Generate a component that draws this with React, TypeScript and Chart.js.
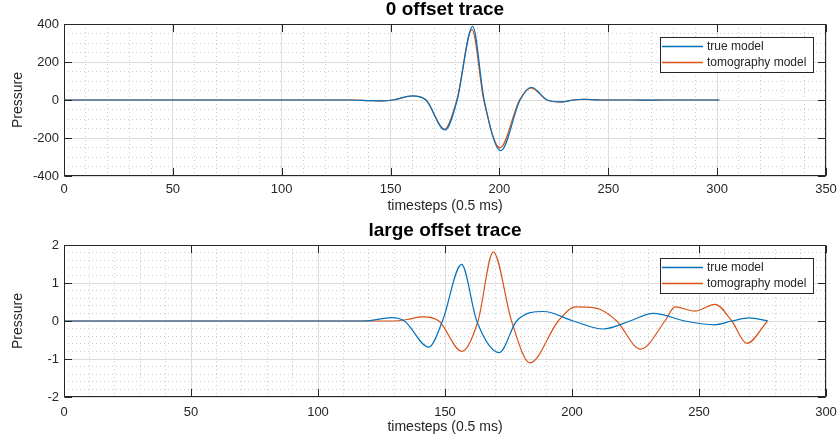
import React, { useEffect, useRef } from 'react';
import { Chart, registerables } from 'chart.js';

Chart.register(...registerables);

const FONT = "'Liberation Sans', Arial, Helvetica, sans-serif";
const INK = '#262626';
const MAJOR_GRID = '#dcdcdc';
const MINOR_GRID = '#cdcdcd';
const TRUE_COLOR = '#0072BD';
const TOMO_COLOR = '#D95319';
const SERIES_LABELS = ['true model', 'tomography model'];
const X_TITLE = 'timesteps (0.5 ms)';
const Y_TITLE = 'Pressure';

// ---- 0 offset trace ----
const zeroTrueT = [0, 132, 140, 146, 151, 160, 166.3, 175, 180.6, 187.7, 193, 200.6, 209.5, 214.8, 222, 228.6, 234, 239, 246, 262, 268, 275, 301];
const zeroTrueP = [0, 0, -3, -5, 0, 22, 0, -158, 0, 388, 0, -267, 0, 67, 0, -10, 0, 4, 0, 0, -1, 0, 0];
const zeroTomoT = [0, 132, 140, 146, 151, 160, 166.2, 174.8, 180.4, 187.4, 192.8, 200.3, 209.2, 214.5, 221.8, 228.4, 234, 239, 246, 262, 268, 275, 301];
const zeroTomoP = [0, 0, -3, -5, 0, 21, 0, -154, 0, 370, 0, -252, 0, 64, 0, -11, 0, 4, 0, 0, -1, 0, 0];

// ---- large offset trace ----
const farTrueT = [0, 118, 129, 134, 143.6, 149, 156.5, 162.5, 171.4, 178.2, 188.8, 200.5, 212.3, 222.8, 232, 244.5, 256, 263, 269.8, 277];
const farTrueP = [0, 0, 0.09, 0, -0.69, 0, 1.49, 0, -0.83, 0, 0.25, 0, -0.21, 0, 0.2, 0, -0.1, 0, 0.08, 0.01];
const farTomoT = [0, 130, 135, 141.2, 147.6, 156.6, 163, 169, 176.2, 183.5, 194.6, 201.5, 207, 211, 217.6, 227, 236.6, 240.6, 248.4, 256.3, 262.9, 268.8, 277];
const farTomoP = [0, 0, 0.04, 0.11, 0, -0.8, 0, 1.82, 0, -1.1, 0, 0.37, 0.36, 0.31, 0, -0.74, 0, 0.37, 0.26, 0.44, 0, -0.59, 0];

type Panel = {
  title: string;
  xMax: number;
  xMinor: number;
  xMajor: number;
  yMin: number;
  yMax: number;
  yMinor: number;
  yMajor: number;
  tickGap: number;
  trueT: number[];
  trueP: number[];
  tomoT: number[];
  tomoP: number[];
};

const PANELS: Panel[] = [
  {
    title: '0 offset trace',
    xMax: 350, xMinor: 10, xMajor: 50,
    yMin: -400, yMax: 400, yMinor: 50, yMajor: 200,
    tickGap: 6,
    trueT: zeroTrueT, trueP: zeroTrueP, tomoT: zeroTomoT, tomoP: zeroTomoP,
  },
  {
    title: 'large offset trace',
    xMax: 300, xMinor: 10, xMajor: 50,
    yMin: -2, yMax: 2, yMinor: 0.2, yMajor: 1,
    tickGap: 8,
    trueT: farTrueT, trueP: farTrueP, tomoT: farTomoT, tomoP: farTomoP,
  },
];

const isMajor = (v: number, step: number) => Math.abs(v / step - Math.round(v / step)) < 1e-6;
const toPoints = (t: number[], p: number[]) => t.map((x, i) => ({ x, y: p[i] }));

const gridColor = (step: number) => (ctx: any) =>
  ctx.tick && !isMajor(ctx.tick.value, step) ? MINOR_GRID : MAJOR_GRID;
const gridDash = (step: number) => (ctx: any) =>
  ctx.tick && !isMajor(ctx.tick.value, step) ? [1, 3] : [];

const TICK_LEN = 7.6;

function TracePanel({ panel, top }: { panel: Panel; top: number }) {
  const ref = useRef<HTMLCanvasElement>(null);

  useEffect(() => {
    const canvas = ref.current!;

    // axes box, inward major tick marks and the boxed legend
    const framePlugin = {
      id: 'frame',
      afterDatasetsDraw(chart: any) {
        const { ctx, chartArea: a, scales } = chart;
        const L = Math.round(a.left) + 0.5;
        const R = Math.round(a.right) - 0.5;
        const T = Math.round(a.top) + 0.5;
        const B = Math.round(a.bottom) - 0.5;
        ctx.save();
        ctx.strokeStyle = INK;
        ctx.lineWidth = 1;
        ctx.beginPath();
        for (let v = 0; v <= panel.xMax + 1e-9; v += panel.xMajor) {
          const px = Math.round(scales.x.getPixelForValue(v)) + 0.5;
          ctx.moveTo(px, B); ctx.lineTo(px, B - TICK_LEN);
          ctx.moveTo(px, T); ctx.lineTo(px, T + TICK_LEN);
        }
        for (let v = panel.yMin; v <= panel.yMax + 1e-9; v += panel.yMajor) {
          const py = Math.round(scales.y.getPixelForValue(v)) + 0.5;
          ctx.moveTo(L, py); ctx.lineTo(L + TICK_LEN, py);
          ctx.moveTo(R, py); ctx.lineTo(R - TICK_LEN, py);
        }
        ctx.stroke();
        ctx.strokeRect(L, T, R - L, B - T);
        ctx.restore();
      },
      afterDraw(chart: any) {
        const { ctx, chartArea: a } = chart;
        const sets = chart.data.datasets;
        ctx.save();
        ctx.font = `12px ${FONT}`;
        const textW = Math.max(...sets.map((d: any) => ctx.measureText(d.label).width));
        const w = Math.round(47 + textW + 7);
        const h = 35;
        const x0 = Math.round(a.right - 13 - w);
        const y0 = Math.round(a.top + 13);
        ctx.fillStyle = '#ffffff';
        ctx.fillRect(x0, y0, w, h);
        ctx.strokeStyle = INK;
        ctx.lineWidth = 1;
        ctx.strokeRect(x0 + 0.5, y0 + 0.5, w, h);
        sets.forEach((d: any, i: number) => {
          const cy = y0 + 9.5 + i * 16;
          ctx.strokeStyle = d.borderColor;
          ctx.lineWidth = 1.5;
          ctx.beginPath();
          ctx.moveTo(x0 + 2, cy);
          ctx.lineTo(x0 + 43, cy);
          ctx.stroke();
          ctx.fillStyle = INK;
          ctx.textBaseline = 'middle';
          ctx.textAlign = 'left';
          ctx.fillText(d.label, x0 + 47, cy);
        });
        ctx.restore();
      },
    };

    const lineStyle = {
      borderWidth: 1.2,
      pointRadius: 0,
      pointHoverRadius: 0,
      cubicInterpolationMode: 'monotone' as const,
      fill: false,
    };

    const chart = new Chart(canvas, {
      type: 'line',
      data: {
        datasets: [
          { label: SERIES_LABELS[0], data: toPoints(panel.trueT, panel.trueP), borderColor: TRUE_COLOR, ...lineStyle },
          { label: SERIES_LABELS[1], data: toPoints(panel.tomoT, panel.tomoP), borderColor: TOMO_COLOR, ...lineStyle },
        ],
      },
      options: {
        responsive: false,
        animation: false,
        devicePixelRatio: 1,
        events: [],
        layout: { padding: { left: 0, right: 13, top: 0, bottom: 0 } },
        plugins: {
          legend: { display: false },
          tooltip: { enabled: false },
          title: {
            display: true,
            text: panel.title,
            fullSize: false,
            color: '#000000',
            font: { family: FONT, size: 19, weight: 'bold', lineHeight: 1 },
            padding: { top: 0, bottom: 5 },
          },
        },
        scales: {
          x: {
            type: 'linear',
            min: 0,
            max: panel.xMax,
            afterFit: (s: any) => {
              s.height = 46;
              s.paddingLeft = 0;
              s.paddingRight = 0;
            },
            ticks: {
              stepSize: panel.xMinor,
              maxTicksLimit: 200,
              autoSkip: false,
              maxRotation: 0,
              padding: panel.tickGap,
              color: INK,
              font: { family: FONT, size: 13 },
              callback: (v: any) => (isMajor(Number(v), panel.xMajor) ? String(Math.round(Number(v))) : ''),
            },
            grid: { drawTicks: false, color: gridColor(panel.xMajor), lineWidth: 1 },
            border: { display: false, dash: gridDash(panel.xMajor) },
            title: {
              display: true,
              text: X_TITLE,
              color: INK,
              font: { family: FONT, size: 14 },
              padding: { top: 0, bottom: 7 },
            },
          },
          y: {
            type: 'linear',
            min: panel.yMin,
            max: panel.yMax,
            afterFit: (s: any) => {
              s.width = 64;
              s.paddingTop = 0;
              s.paddingBottom = 0;
            },
            ticks: {
              stepSize: panel.yMinor,
              maxTicksLimit: 200,
              autoSkip: false,
              padding: 5,
              color: INK,
              font: { family: FONT, size: 13 },
              callback: (v: any) => (isMajor(Number(v), panel.yMajor) ? String(Math.round(Number(v))) : ''),
            },
            grid: { drawTicks: false, color: gridColor(panel.yMajor), lineWidth: 1 },
            border: { display: false, dash: gridDash(panel.yMajor) },
            title: {
              display: true,
              text: Y_TITLE,
              color: INK,
              font: { family: FONT, size: 14 },
              padding: { top: 9.5, bottom: 0 },
            },
          },
        },
      } as any,
      plugins: [framePlugin],
    });

    return () => chart.destroy();
  }, [panel]);

  return (
    <canvas
      ref={ref}
      width={839}
      height={222}
      style={{ position: 'absolute', left: 0, top, width: 839, height: 222 }}
    />
  );
}

export default function App() {
  return (
    <div style={{ position: 'fixed', left: 0, top: 0, width: 839, height: 444, background: '#ffffff' }}>
      <TracePanel panel={PANELS[0]} top={0} />
      <TracePanel panel={PANELS[1]} top={221} />
    </div>
  );
}
